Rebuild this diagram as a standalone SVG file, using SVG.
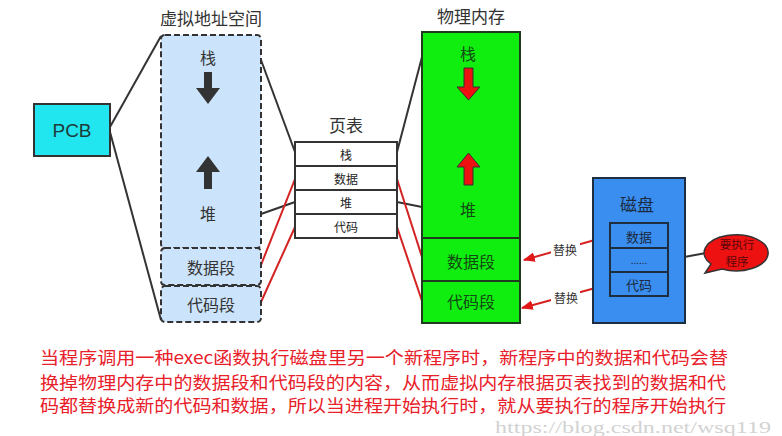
<svg xmlns="http://www.w3.org/2000/svg" width="782" height="436" viewBox="0 0 782 436">
<style>
text{font-family:"Noto Sans CJK SC","Liberation Sans",sans-serif;text-anchor:middle;dominant-baseline:central}
.title{font-size:17px;fill:#333}
.vtxt{font-size:16px;fill:#333}
.ptxt{font-size:16px;fill:#124a12}
.pt{font-size:12px;fill:#222}
.dtxt{font-size:13px;fill:#1a2a40}
.lbl{font-size:12px;fill:#333}
.vbox{fill:#cce4fb;stroke:#333;stroke-width:2;stroke-dasharray:6 3}
.cell{fill:#fff;stroke:#333;stroke-width:2}
.blk{stroke:#333;stroke-width:2;fill:none}
.red{stroke:#d42222;stroke-width:2;fill:none}
</style>
<defs>
<marker id="ah" viewBox="0 0 10 10" refX="9" refY="5" markerWidth="6" markerHeight="6" orient="auto" markerUnits="strokeWidth">
<path d="M0,1 L10,5 L0,9 z" fill="#e01818"/>
</marker>
</defs>

<g id="titles">
<text class="title" x="211" y="17">虚拟地址空间</text>
<text class="title" x="471" y="15">物理内存</text>
<text class="title" x="346" y="124">页表</text>
</g>

<g id="connectors">
<line class="blk" x1="110" y1="127" x2="161" y2="36"/>
<line class="blk" x1="110" y1="132" x2="161" y2="320"/>
<line class="blk" x1="261" y1="60" x2="295" y2="152"/>
<line class="blk" x1="261" y1="214" x2="295" y2="202"/>
<line class="red" x1="261" y1="265" x2="295" y2="179"/>
<line class="red" x1="261" y1="302" x2="295" y2="227"/>
<line class="blk" x1="397" y1="152" x2="422" y2="57"/>
<line class="blk" x1="397" y1="202" x2="422" y2="207"/>
<line class="red" x1="397" y1="179" x2="422" y2="257"/>
<line class="red" x1="397" y1="227" x2="422" y2="301"/>
<line class="red" x1="609" y1="236" x2="524" y2="260" marker-end="url(#ah)"/>
<line class="red" x1="610" y1="284" x2="522" y2="308" marker-end="url(#ah)"/>
<rect x="551" y="241" width="29" height="16" fill="#fff"/>
<rect x="551" y="289" width="29" height="16" fill="#fff"/>
<text class="lbl" x="565" y="249">替换</text>
<text class="lbl" x="566" y="297">替换</text>
<line class="blk" x1="668" y1="260" x2="706" y2="253"/>
</g>

<g id="pcb">
<rect x="34" y="104" width="76" height="52" fill="#22e6ef" stroke="#333" stroke-width="2"/>
<text x="72" y="130" style="font-family:'Liberation Sans',sans-serif;font-size:19px;fill:#1e3a3a">PCB</text>
</g>

<g id="virtual">
<rect class="vbox" x="161" y="35" width="100" height="213" rx="4"/>
<text class="vtxt" x="208" y="57">栈</text>
<path d="M204,72 H212 V88 H220 L208,104 L196,88 H204 Z" fill="#333"/>
<path d="M208,156 L220,172 H212 V189 H204 V172 H196 Z" fill="#333"/>
<text class="vtxt" x="208" y="213">堆</text>
</g>
<g id="vdata">
<rect class="vbox" x="161" y="248" width="100" height="37" rx="4"/>
<text class="vtxt" x="211" y="267">数据段</text>
</g>
<g id="vcode">
<rect class="vbox" x="161" y="286" width="100" height="36" rx="4"/>
<text class="vtxt" x="211" y="304">代码段</text>
</g>

<g id="pagetable">
<rect class="cell" x="295" y="142" width="102" height="24"/>
<rect class="cell" x="295" y="166" width="102" height="24"/>
<rect class="cell" x="295" y="190" width="102" height="24"/>
<rect class="cell" x="295" y="214" width="102" height="24"/>
<text class="pt" x="346" y="154">栈</text>
<text class="pt" x="346" y="178">数据</text>
<text class="pt" x="346" y="202">堆</text>
<text class="pt" x="346" y="226">代码</text>
</g>

<g id="physical">
<rect x="422" y="32" width="98" height="291" fill="#10ee10" stroke="#1f3a1f" stroke-width="2"/>
<line x1="422" y1="238" x2="520" y2="238" stroke="#1f3a1f" stroke-width="2"/>
<line x1="422" y1="281" x2="520" y2="281" stroke="#1f3a1f" stroke-width="2"/>
<text class="ptxt" x="468" y="53">栈</text>
<path d="M464,68 H473 V87 H480 L468.5,100 L457,87 H464 Z" fill="#ee1111" stroke="#333" stroke-width="1"/>
<path d="M468.5,153 L480,167 H473 V185 H464 V167 H457 Z" fill="#ee1111" stroke="#333" stroke-width="1"/>
<text class="ptxt" x="468" y="209">堆</text>
<text class="ptxt" x="471" y="261">数据段</text>
<text class="ptxt" x="471" y="301">代码段</text>
</g>

<g id="disk">
<rect x="593" y="178" width="92" height="145" fill="#3a8ef0" stroke="#1e2e40" stroke-width="2"/>
<text class="title" x="637" y="203" style="fill:#1a2a40">磁盘</text>
<rect x="610" y="223" width="58" height="25" fill="#3a8ef0" stroke="#1e2e40" stroke-width="2"/>
<rect x="610" y="248" width="58" height="24" fill="#3a8ef0" stroke="#1e2e40" stroke-width="2"/>
<rect x="610" y="272" width="58" height="24" fill="#3a8ef0" stroke="#1e2e40" stroke-width="2"/>
<text class="dtxt" x="639" y="236">数据</text>
<text class="dtxt" x="639" y="259" style="font-size:10px">......</text>
<text class="dtxt" x="639" y="284">代码</text>
</g>

<g id="bubble">
<path d="M711,264 A32,18 0 1 1 722,269 L705,273 Z" fill="#ee1111" stroke="#333" stroke-width="1.5"/>
<text x="737" y="244" style="font-size:11.5px;fill:#5a0808">要执行</text>
<text x="737" y="261" style="font-size:11.5px;fill:#5a0808">程序</text>
</g>

<g id="caption" style="font-size:17.5px;fill:#e8202a">
<text x="40" y="356" style="text-anchor:start" textLength="688" lengthAdjust="spacingAndGlyphs">当程序调用一种exec函数执行磁盘里另一个新程序时，新程序中的数据和代码会替</text>
<text x="40" y="381" style="text-anchor:start" textLength="686" lengthAdjust="spacingAndGlyphs">换掉物理内存中的数据段和代码段的内容，从而虚拟内存根据页表找到的数据和代</text>
<text x="40" y="404" style="text-anchor:start" textLength="686" lengthAdjust="spacingAndGlyphs">码都替换成新的代码和数据，所以当进程开始执行时，就从要执行的程序开始执行</text>
</g>
<text x="495" y="427" style="font-family:'Liberation Serif',serif;font-size:16px;fill:#d2d2d2;text-anchor:start" textLength="276" lengthAdjust="spacingAndGlyphs">https://blog.csdn.net/wsq119</text>
</svg>
